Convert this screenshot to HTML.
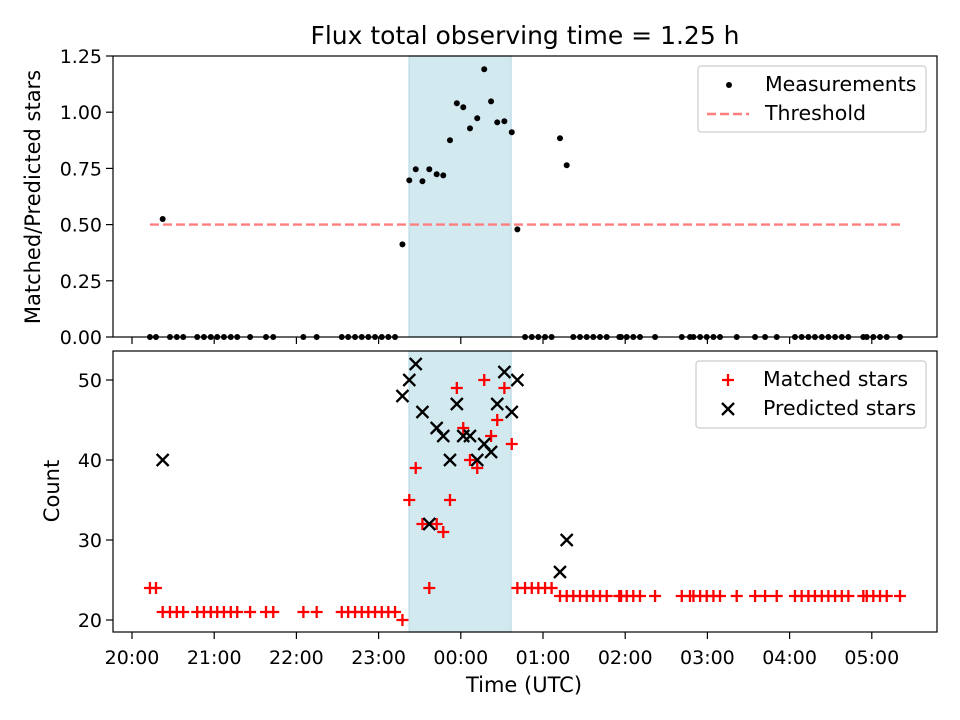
<!DOCTYPE html>
<html><head><meta charset="utf-8"><style>
html,body{margin:0;padding:0;background:#fff;}
svg{display:block;font-family:"DejaVu Sans","Liberation Sans",sans-serif;}
</style></head><body>
<svg id="chart" width="960" height="720" viewBox="0 0 960 720">
<rect width="960" height="720" fill="#fff"/>
<g id="topPanel"></g>
<g id="botPanel"></g>
<text x="525" y="44" font-size="25" text-anchor="middle">Flux total observing time = 1.25 h</text>
<text x="524" y="692" font-size="21" text-anchor="middle">Time (UTC)</text>
<text transform="translate(40,197) rotate(-90)" font-size="21" text-anchor="middle">Matched/Predicted stars</text>
<text transform="translate(59,491) rotate(-90)" font-size="21" text-anchor="middle">Count</text>
</svg>
<script>
// minutes after 20:00 UTC
const times = [13.1,17.5,22.4,27.7,32.7,37.4,47.6,52.5,57.5,62.2,67.1,72.1,76.8,86.2,97.8,103.1,125.1,134.8,153.1,157.8,162.8,167.7,172.5,177.4,182.3,187.1,192.0,
197.4,202.4,207.1,212.0,217.0,222.4,227.2,232.1,237.1,241.8,246.7,252.0,257.1,262.1,266.6,271.8,277.2,281.3,
286.9,291.8,296.6,301.5,306.3,
312.4,317.3,322.1,327.0,331.9,336.7,341.6,346.5,355.7,357.0,361.1,365.9,370.8,381.8,401.3,407.3,409.8,414.7,419.5,424.4,429.2,441.4,454.8,462.1,470.6,483.9,488.8,493.7,498.5,503.5,508.3,513.2,518.1,522.9,533.8,536.3,541.1,546.0,550.9,560.6];
const matched = [24,24,21,21,21,21,21,21,21,21,21,21,21,21,21,21,21,21,21,21,21,21,21,21,21,21,21,
20,35,39,32,24,32,31,35,49,44,40,39,50,43,45,49,42,24,
24,24,24,24,24,
23,23,23,23,23,23,23,23,23,23,23,23,23,23,23,23,23,23,23,23,23,23,23,23,23,23,23,23,23,23,23,23,23,23,23,23,23,23,23,23];
const predicted = [null,null,40,null,null,null,null,null,null,null,null,null,null,null,null,null,null,null,null,null,null,null,null,null,null,null,null,
48,50,52,46,32,44,43,40,47,43,43,40,42,41,47,51,46,50,
null,null,null,null,null,
26,30,null,null,null,null,null,null,null,null,null,null,null,null,null,null,null,null,null,null,null,null,null,null,null,null,null,null,null,null,null,null,null,null,null,null,null,null,null,null];
const ratio = [0,0,0.525,0,0,0,0,0,0,0,0,0,0,0,0,0,0,0,0,0,0,0,0,0,0,0,0,
0.412,0.697,0.746,0.693,0.746,0.724,0.719,0.875,1.04,1.022,0.928,0.973,1.191,1.048,0.955,0.96,0.911,0.479,
0,0,0,0,0,
0.884,0.764,0,0,0,0,0,0,0,0,0,0,0,0,0,0,0,0,0,0,0,0,0,0,0,0,0,0,0,0,0,0,0,0,0,0,0,0,0,0];
const threshold = 0.5;
const spanStart = 202.2, spanEnd = 276.7;
const xTickLabels = ["20:00","21:00","22:00","23:00","00:00","01:00","02:00","03:00","04:00","05:00"];
const topYTicks = [0,0.25,0.5,0.75,1.0,1.25];
const topYTickLabels = ["0.00","0.25","0.50","0.75","1.00","1.25"];
const botYTicks = [20,30,40,50];

const NS="http://www.w3.org/2000/svg";
const L=113,R=937;
const FS=19;
const xs = m => 132 + m*82.2/60;
const yTop = v => 337 - v*224.8;
const yBot = c => 620 - (c-20)*8;
function mk(parent,tag,attrs){const e=document.createElementNS(NS,tag);for(const k in attrs)e.setAttribute(k,attrs[k]);parent.appendChild(e);return e;}

function panel(g,t,b,name){
  const sp=mk(g,'rect',{x:xs(spanStart),y:t,width:xs(spanEnd)-xs(spanStart),height:b-t,fill:'#d3e9f0',stroke:'#b9dbe6','stroke-width':1.2});
  
  
  xTickLabels.forEach((lab,i)=>{
    const x=xs(i*60);
    const tk=mk(g,'line',{x1:x,x2:x,y1:b,y2:b+7,stroke:'#000','stroke-width':1.2});
    
    
  });
}
function frame(g,t,b,name){
  const fr=mk(g,'rect',{x:L,y:t,width:R-L,height:b-t,fill:'none',stroke:'#000','stroke-width':1.2});
  
  
}

// TOP
const topG=document.getElementById('topPanel');
panel(topG,56,337,'top');
topYTicks.forEach((v,i)=>{
  const y=yTop(v);
  const tk=mk(topG,'line',{x1:L-7,x2:L,y1:y,y2:y,stroke:'#000','stroke-width':1.2});
  
  
  const tl=mk(topG,'text',{x:L-11,y:y+7,'font-size':FS,'text-anchor':'end'});
  tl.textContent=topYTickLabels[i];
  
  
});
const th=mk(topG,'line',{x1:xs(times[0]),x2:xs(times[times.length-1]),y1:yTop(threshold),y2:yTop(threshold),stroke:'#ff7f7f','stroke-width':2.4,'stroke-dasharray':'9,4'});


times.forEach((t,i)=>{
  const c=mk(topG,'circle',{cx:xs(t),cy:yTop(ratio[i]),r:3,fill:'#000'});
  
  
});
frame(topG,56,337,'top');

// BOTTOM
const botG=document.getElementById('botPanel');
panel(botG,351,632,'bottom');
botYTicks.forEach(v=>{
  const y=yBot(v);
  const tk=mk(botG,'line',{x1:L-7,x2:L,y1:y,y2:y,stroke:'#000','stroke-width':1.2});
  
  
  const tl=mk(botG,'text',{x:L-11,y:y+7,'font-size':FS,'text-anchor':'end'});
  tl.textContent=String(v);
  
  
});
xTickLabels.forEach((lab,i)=>{
  const tl=mk(botG,'text',{x:xs(i*60),y:664,'font-size':FS,'text-anchor':'middle'});
  tl.textContent=lab;
  
  
});
function plus(g,x,y){return mk(g,'path',{d:`M${x-6} ${y}H${x+6}M${x} ${y-6}V${y+6}`,stroke:'#ff0000','stroke-width':2.3,fill:'none'});}
function cross(g,x,y){return mk(g,'path',{d:`M${x-6} ${y-6}L${x+6} ${y+6}M${x-6} ${y+6}L${x+6} ${y-6}`,stroke:'#000','stroke-width':2.3,fill:'none'});}
times.forEach((t,i)=>{
  const p=plus(botG,xs(t),yBot(matched[i]));
  
  
});
times.forEach((t,i)=>{
  if(predicted[i]===null)return;
  const p=cross(botG,xs(t),yBot(predicted[i]));
  
  
});
frame(botG,351,632,'bottom');

// LEGENDS
const svgEl=document.getElementById('chart');
const lg1=mk(svgEl,'g',{});


mk(lg1,'rect',{x:698,y:66,width:228,height:66,rx:3,fill:'#fff',stroke:'#ccc','stroke-width':1.2});
mk(lg1,'circle',{cx:729,cy:85,r:3,fill:'#000'});
mk(lg1,'line',{x1:707,x2:749,y1:114,y2:114,stroke:'#ff7f7f','stroke-width':2.4,'stroke-dasharray':'9,4'});
const t1=mk(lg1,'text',{x:765,y:91,'font-size':20.5});t1.textContent='Measurements';


const t2=mk(lg1,'text',{x:765,y:120,'font-size':20.5});t2.textContent='Threshold';



const lg2=mk(svgEl,'g',{});


mk(lg2,'rect',{x:696,y:361,width:230,height:67,rx:3,fill:'#fff',stroke:'#ccc','stroke-width':1.2});
plus(lg2,728,380);
cross(lg2,728,409);
const t3=mk(lg2,'text',{x:763,y:386,'font-size':20.5});t3.textContent='Matched stars';


const t4=mk(lg2,'text',{x:763,y:415,'font-size':20.5});t4.textContent='Predicted stars';


</script>
</body></html>
